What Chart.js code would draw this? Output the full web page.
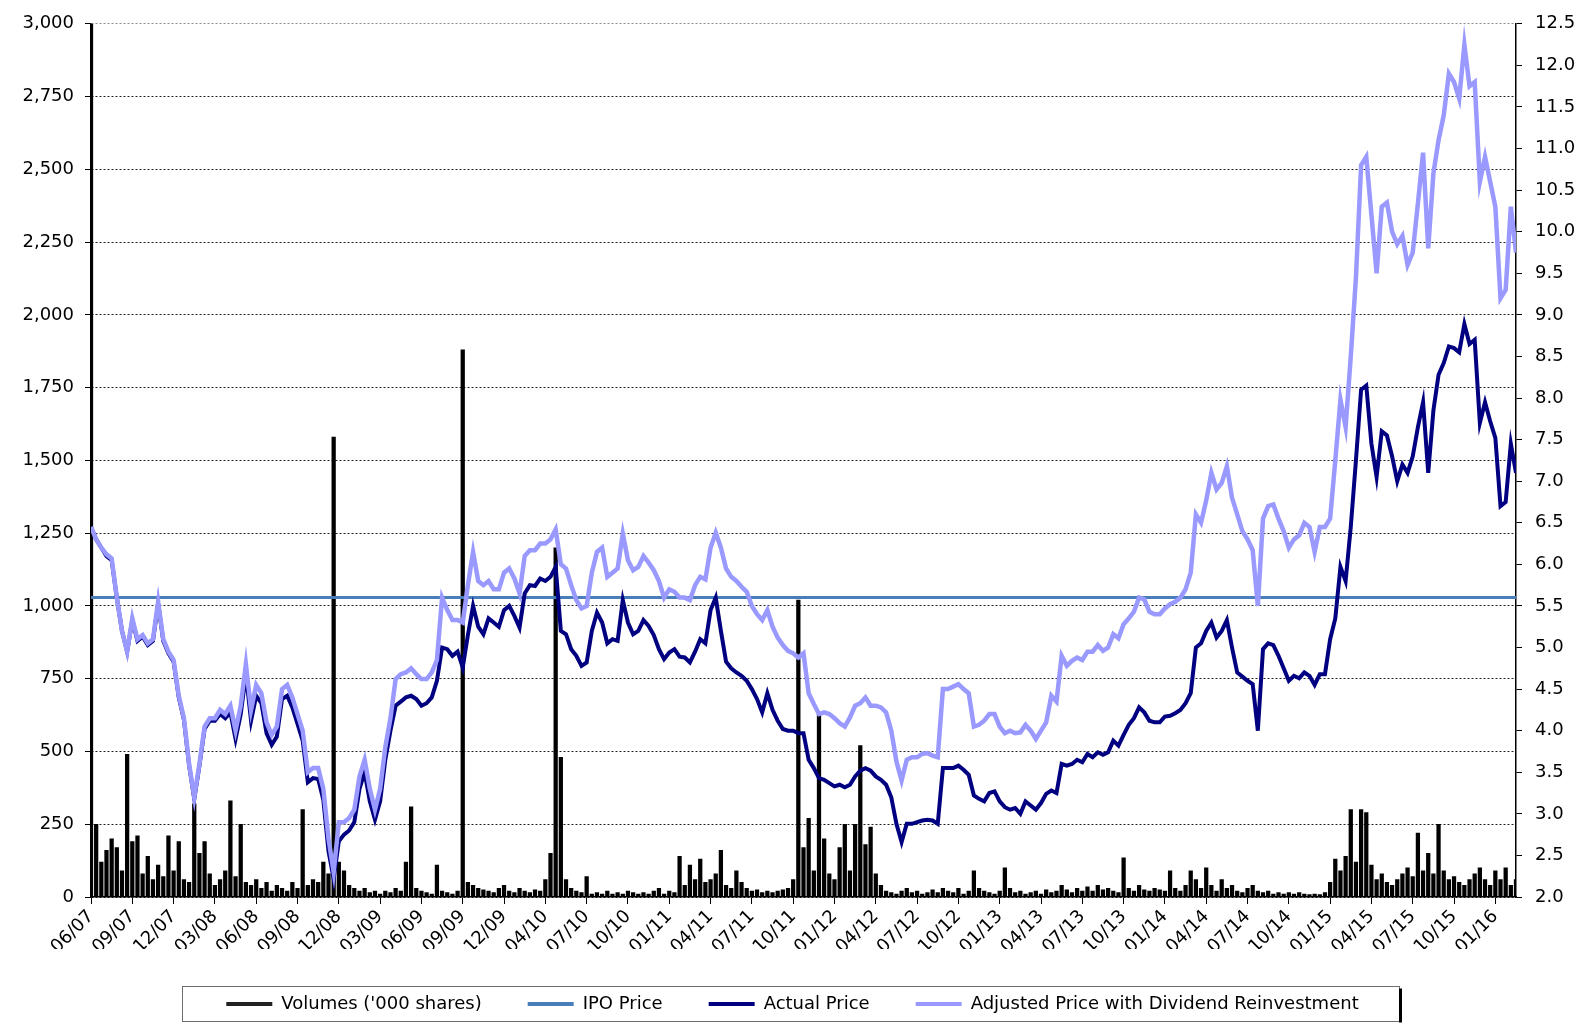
<!DOCTYPE html>
<html>
<head>
<meta charset="utf-8">
<title>Share price and volumes</title>
<script src="https://cdn.jsdelivr.net/npm/chart.js@4.4.0/dist/chart.umd.min.js"></script>
<style>
  html, body { margin: 0; padding: 0; background: #fff; }
  #wrap { width: 1585px; height: 1023px; }
</style>
</head>
<body>
<div id="wrap"><canvas id="chart" width="1585" height="1023"></canvas></div>
<script>
'use strict';

//#region Data

// one label every 8 points on the x axis
const tickLabels = [
  '06/07', '09/07', '12/07', '03/08', '06/08', '09/08', '12/08', '03/09', '06/09',
  '09/09', '12/09', '04/10', '07/10', '10/10', '01/11', '04/11', '07/11', '10/11',
  '01/12', '04/12', '07/12', '10/12', '01/13', '04/13', '07/13', '10/13', '01/14',
  '04/14', '07/14', '10/14', '01/15', '04/15', '07/15', '10/15', '01/16'
];
const pointsPerLabel = 8;
const lastIndex = 276;

const ipoPrice = 5.6;

// volumes ('000 shares), left axis
const volumes = [
  /* 0 */ 3000, 250, 120, 160, 200, 170, 90, 490, 190, 210,
  /* 10 */ 80, 140, 60, 110, 70, 210, 90, 190, 60, 50,
  /* 20 */ 320, 150, 190, 80, 40, 60, 90, 330, 70, 250,
  /* 30 */ 50, 40, 60, 30, 50, 20, 40, 30, 20, 50,
  /* 40 */ 30, 300, 40, 60, 50, 120, 80, 1580, 120, 90,
  /* 50 */ 40, 30, 20, 30, 15, 20, 10, 20, 15, 30,
  /* 60 */ 20, 120, 310, 30, 20, 15, 10, 110, 20, 15,
  /* 70 */ 10, 20, 1880, 50, 40, 30, 25, 20, 15, 30,
  /* 80 */ 40, 20, 15, 30, 20, 15, 25, 20, 60, 150,
  /* 90 */ 1200, 480, 60, 30, 20, 15, 70, 10, 15, 10,
  /* 100 */ 20, 10, 15, 10, 20, 15, 10, 15, 10, 20,
  /* 110 */ 30, 10, 20, 15, 140, 40, 110, 60, 130, 50,
  /* 120 */ 60, 80, 160, 40, 30, 90, 50, 30, 20, 25,
  /* 130 */ 15, 20, 15, 20, 25, 30, 60, 1020, 170, 270,
  /* 140 */ 90, 630, 200, 80, 60, 170, 250, 90, 250, 520,
  /* 150 */ 180, 240, 80, 40, 20, 15, 10, 20, 30, 15,
  /* 160 */ 20, 10, 15, 25, 15, 30, 20, 15, 30, 10,
  /* 170 */ 20, 90, 30, 20, 15, 10, 20, 100, 30, 15,
  /* 180 */ 20, 10, 15, 20, 10, 25, 15, 20, 40, 25,
  /* 190 */ 15, 30, 20, 35, 20, 40, 25, 30, 20, 15,
  /* 200 */ 135, 30, 20, 40, 25, 20, 30, 25, 20, 90,
  /* 210 */ 30, 20, 40, 90, 60, 30, 100, 40, 20, 60,
  /* 220 */ 30, 40, 20, 15, 30, 40, 20, 15, 20, 10,
  /* 230 */ 15, 10, 15, 10, 15, 10, 8, 10, 8, 15,
  /* 240 */ 50, 130, 90, 140, 300, 120, 300, 290, 110, 60,
  /* 250 */ 80, 50, 40, 60, 80, 100, 70, 220, 90, 150,
  /* 260 */ 80, 250, 90, 60, 70, 50, 40, 60, 80, 100,
  /* 270 */ 60, 40, 90, 60, 100, 40, 60
];

// actual share price, right axis
const actualPrice = [
  /* 0 */ 6.45, 6.3, 6.2, 6.1, 6.05, 5.6, 5.2, 4.95, 5.33, 5.08,
  /* 10 */ 5.13, 5.03, 5.08, 5.53, 5.08, 4.93, 4.83, 4.4, 4.13, 3.58,
  /* 20 */ 3.18, 3.58, 4.02, 4.12, 4.12, 4.2, 4.15, 4.22, 3.9, 4.2,
  /* 30 */ 4.68, 4.12, 4.42, 4.33, 3.97, 3.83, 3.93, 4.38, 4.42, 4.28,
  /* 40 */ 4.08, 3.88, 3.38, 3.43, 3.42, 3.17, 2.55, 2.22, 2.67, 2.75,
  /* 50 */ 2.8, 2.9, 3.3, 3.5, 3.15, 2.93, 3.15, 3.65, 4.0, 4.3,
  /* 60 */ 4.35, 4.4, 4.42, 4.38, 4.3, 4.33, 4.4, 4.6, 5.0, 4.98,
  /* 70 */ 4.9, 4.95, 4.76, 5.15, 5.5, 5.25, 5.16, 5.35, 5.3, 5.25,
  /* 80 */ 5.45, 5.5, 5.38, 5.24, 5.65, 5.75, 5.74, 5.83, 5.8, 5.85,
  /* 90 */ 5.97, 5.2, 5.16, 4.98, 4.9, 4.78, 4.82, 5.2, 5.42, 5.3,
  /* 100 */ 5.05, 5.1, 5.08, 5.57, 5.3, 5.16, 5.2, 5.33, 5.26, 5.15,
  /* 110 */ 4.98, 4.86, 4.94, 4.98, 4.89, 4.88, 4.82, 4.95, 5.1, 5.05,
  /* 120 */ 5.45, 5.6, 5.2, 4.83, 4.75, 4.7, 4.66, 4.6, 4.5, 4.38,
  /* 130 */ 4.22, 4.45, 4.25, 4.12, 4.02, 4.0, 4.0, 3.97, 3.97, 3.65,
  /* 140 */ 3.55, 3.43, 3.41, 3.37, 3.33, 3.35, 3.32, 3.35, 3.45, 3.52,
  /* 150 */ 3.55, 3.52, 3.45, 3.41, 3.35, 3.2, 2.88, 2.66, 2.88, 2.88,
  /* 160 */ 2.9, 2.92, 2.93, 2.92, 2.88, 3.55, 3.55, 3.55, 3.58, 3.53,
  /* 170 */ 3.47, 3.22, 3.18, 3.15, 3.25, 3.27, 3.15, 3.08, 3.05, 3.07,
  /* 180 */ 3.0, 3.15, 3.1, 3.05, 3.13, 3.24, 3.28, 3.25, 3.6, 3.58,
  /* 190 */ 3.6, 3.65, 3.62, 3.72, 3.68, 3.74, 3.71, 3.74, 3.88, 3.82,
  /* 200 */ 3.95, 4.07, 4.15, 4.28, 4.22, 4.12, 4.1, 4.1, 4.17, 4.18,
  /* 210 */ 4.21, 4.25, 4.33, 4.45, 5.0, 5.05, 5.2, 5.3, 5.12, 5.2,
  /* 220 */ 5.33, 5.0, 4.7, 4.65, 4.6, 4.56, 4.0, 4.98, 5.05, 5.03,
  /* 230 */ 4.9, 4.75, 4.6, 4.66, 4.63, 4.7, 4.66, 4.55, 4.68, 4.68,
  /* 240 */ 5.1, 5.35, 5.97, 5.8, 6.45, 7.25, 8.1, 8.15, 7.45, 7.05,
  /* 250 */ 7.6, 7.55, 7.3, 7.0, 7.2, 7.1, 7.3, 7.65, 7.95, 7.1,
  /* 260 */ 7.85, 8.28, 8.42, 8.62, 8.6, 8.55, 8.89, 8.65, 8.7, 7.7,
  /* 270 */ 7.95, 7.72, 7.52, 6.7, 6.75, 7.45, 7.1
];

// adjusted price with dividend reinvestment, right axis
const adjustedPrice = [
  /* 0 */ 6.45, 6.3, 6.2, 6.12, 6.07, 5.6, 5.2, 4.95, 5.35, 5.1,
  /* 10 */ 5.15, 5.05, 5.1, 5.55, 5.1, 4.95, 4.85, 4.42, 4.15, 3.6,
  /* 20 */ 3.2, 3.6, 4.05, 4.15, 4.15, 4.25, 4.2, 4.3, 4.0, 4.3,
  /* 30 */ 4.8, 4.25, 4.55, 4.45, 4.1, 3.95, 4.05, 4.5, 4.55, 4.4,
  /* 40 */ 4.2, 4.0, 3.5, 3.55, 3.55, 3.3, 2.7, 2.3, 2.9, 2.9,
  /* 50 */ 2.95, 3.05, 3.45, 3.65, 3.3, 3.05, 3.3, 3.8, 4.15, 4.62,
  /* 60 */ 4.68, 4.7, 4.75, 4.68, 4.62, 4.62, 4.7, 4.85, 5.6, 5.45,
  /* 70 */ 5.33, 5.33, 5.3, 5.75, 6.15, 5.8, 5.75, 5.8, 5.7, 5.7,
  /* 80 */ 5.9, 5.95, 5.83, 5.65, 6.1, 6.17, 6.17, 6.25, 6.25, 6.3,
  /* 90 */ 6.42, 6.0, 5.95, 5.75, 5.57, 5.47, 5.5, 5.9, 6.15, 6.2,
  /* 100 */ 5.85, 5.9, 5.95, 6.37, 6.05, 5.93, 5.97, 6.1, 6.02, 5.93,
  /* 110 */ 5.8, 5.6, 5.7, 5.67, 5.6, 5.6, 5.57, 5.75, 5.85, 5.82,
  /* 120 */ 6.2, 6.38, 6.2, 5.95, 5.85, 5.8, 5.73, 5.67, 5.5, 5.4,
  /* 130 */ 5.33, 5.45, 5.25, 5.12, 5.03, 4.96, 4.93, 4.88, 4.93, 4.45,
  /* 140 */ 4.32, 4.2, 4.22, 4.2, 4.15, 4.09, 4.05, 4.16, 4.3, 4.33,
  /* 150 */ 4.4, 4.3, 4.3, 4.28, 4.22, 4.0, 3.63, 3.4, 3.65, 3.68,
  /* 160 */ 3.68, 3.72, 3.73, 3.7, 3.68, 4.5, 4.5, 4.53, 4.56, 4.5,
  /* 170 */ 4.45, 4.05, 4.07, 4.12, 4.2, 4.2, 4.05, 3.97, 4.0, 3.97,
  /* 180 */ 3.98, 4.07, 4.0, 3.9, 4.0, 4.1, 4.42, 4.35, 4.9, 4.78,
  /* 190 */ 4.84, 4.88, 4.85, 4.95, 4.95, 5.03, 4.96, 5.0, 5.16, 5.11,
  /* 200 */ 5.28, 5.35, 5.43, 5.6, 5.58, 5.43, 5.4, 5.4, 5.47, 5.52,
  /* 210 */ 5.55, 5.6, 5.7, 5.9, 6.6, 6.5, 6.77, 7.1, 6.9, 6.98,
  /* 220 */ 7.18, 6.8, 6.6, 6.4, 6.3, 6.17, 5.5, 6.55, 6.7, 6.72,
  /* 230 */ 6.55, 6.4, 6.2, 6.3, 6.35, 6.5, 6.45, 6.15, 6.45, 6.45,
  /* 240 */ 6.55, 7.25, 7.98, 7.65, 8.5, 9.45, 10.8, 10.9, 10.2, 9.5,
  /* 250 */ 10.3, 10.35, 10.0, 9.85, 9.95, 9.6, 9.75, 10.34, 10.95, 9.8,
  /* 260 */ 10.7, 11.1, 11.4, 11.9, 11.8, 11.6, 12.25, 11.75, 11.8, 10.6,
  /* 270 */ 10.9, 10.6, 10.3, 9.2, 9.3, 10.3, 9.75
];

//#endregion

//#region Helpers

function toPoints(arr) {
  return arr.map((v, i) => ({ x: i, y: v }));
}

// draws the frame round the legend, with the darker right edge
const legendFrame = {
  id: 'legendFrame',
  afterDraw(chart) {
    const boxes = chart.legend && chart.legend.legendHitBoxes;
    if (!boxes || !boxes.length) return;
    const ctx = chart.ctx;
    const first = boxes[0];
    const last = boxes[boxes.length - 1];
    const left = Math.round(first.left - 44) + 0.5;
    const right = Math.round(last.left + last.width + 40) + 0.5;
    const mid = first.top + first.height / 2;
    const top = Math.round(mid - 18) + 0.5;
    const bottom = Math.round(mid + 17) + 0.5;
    ctx.save();
    ctx.strokeStyle = '#6e6e6e';
    ctx.lineWidth = 1;
    ctx.strokeRect(left, top, right - left, bottom - top);
    ctx.strokeStyle = '#000';
    ctx.lineWidth = 3;
    ctx.beginPath();
    ctx.moveTo(right + 1, top + 2);
    ctx.lineTo(right + 1, bottom + 1);
    ctx.stroke();
    ctx.restore();
  }
};

//#endregion

//#region Chart

const chartElem = document.getElementById('chart');
let context = chartElem.getContext('2d');

Chart.defaults.font.family = '"DejaVu Sans", sans-serif';
Chart.defaults.color = '#000';

let chartObj = {
  type: 'line',
  data: {
    datasets: [
      {
        type: 'bar',
        label: 'Volumes (\'000 shares)',
        data: toPoints(volumes),
        yAxisID: 'yVol',
        borderColor: '#222',
        backgroundColor: '#000',
        borderWidth: 0,
        barThickness: 3.6,
        grouped: false,
        order: 3
      },
      {
        label: 'IPO Price',
        data: [{ x: 0, y: ipoPrice }, { x: lastIndex, y: ipoPrice }],
        yAxisID: 'yPrice',
        borderColor: '#4a7ebb',
        backgroundColor: '#4a7ebb',
        borderWidth: 3,
        pointRadius: 0,
        fill: false,
        order: 2
      },
      {
        label: 'Actual Price',
        data: toPoints(actualPrice),
        yAxisID: 'yPrice',
        borderColor: '#000080',
        backgroundColor: '#000080',
        borderWidth: 4,
        pointRadius: 0,
        fill: false,
        tension: 0,
        order: 1
      },
      {
        label: 'Adjusted Price with Dividend Reinvestment',
        data: toPoints(adjustedPrice),
        yAxisID: 'yPrice',
        borderColor: '#9999ff',
        backgroundColor: '#9999ff',
        borderWidth: 4.5,
        pointRadius: 0,
        fill: false,
        tension: 0,
        order: 0
      }
    ]
  },
  options: {
    responsive: false,
    animation: false,
    events: [],
    layout: { padding: { top: 18, left: 0, right: 0, bottom: 0 } },
    plugins: {
      tooltip: { enabled: false },
      legend: {
        position: 'bottom',
        labels: {
          usePointStyle: true,
          pointStyleWidth: 46,
          padding: 46,
          color: '#000',
          font: { size: 18 },
          sort: (a, b) => a.datasetIndex - b.datasetIndex,
          generateLabels: (chart) => Chart.defaults.plugins.legend.labels.generateLabels(chart)
            .map(item => Object.assign(item, { pointStyle: 'line', lineWidth: 4 }))
        }
      }
    },
    scales: {
      x: {
        type: 'linear',
        min: 0,
        max: lastIndex,
        offset: false,
        afterBuildTicks: (scale) => {
          scale.ticks = tickLabels.map((t, k) => ({ value: k * pointsPerLabel }));
        },
        afterFit: (scale) => { scale.height = 52; },
        ticks: {
          autoSkip: false,
          minRotation: 45,
          maxRotation: 45,
          padding: 2,
          color: '#000',
          font: { size: 18 },
          callback: (v) => tickLabels[Math.round(v / pointsPerLabel)] || ''
        },
        grid: {
          offset: false,
          drawOnChartArea: false,
          drawTicks: true,
          tickLength: 7,
          tickColor: '#000',
          tickWidth: 1
        },
        border: { display: true, color: '#000', width: 1.5 }
      },
      yVol: {
        position: 'left',
        min: 0,
        max: 3000,
        afterFit: (scale) => { scale.width = 91; },
        ticks: {
          stepSize: 250,
          padding: 11,
          color: '#000',
          font: { size: 18 },
          callback: (v) => v.toLocaleString('en-US')
        },
        grid: {
          color: (c) => (c.tick && c.tick.value === 3000 ? '#8a8a8a' : '#222'),
          lineWidth: 1,
          tickLength: 6,
          tickColor: '#000',
          tickBorderDash: []
        },
        border: { display: true, color: '#000', width: 1.5, dash: [2, 2] }
      },
      yPrice: {
        position: 'right',
        min: 2,
        max: 12.5,
        afterFit: (scale) => { scale.width = 69; },
        ticks: {
          stepSize: 0.5,
          padding: 13,
          color: '#000',
          font: { size: 18 },
          callback: (v) => v.toFixed(1)
        },
        grid: {
          drawOnChartArea: false,
          tickLength: 6,
          tickColor: '#000'
        },
        border: { display: true, color: '#000', width: 1.5 }
      }
    }
  },
  plugins: [legendFrame]
};

const chart = new Chart(context, chartObj); //eslint-disable-line

//#endregion
</script>
</body>
</html>
